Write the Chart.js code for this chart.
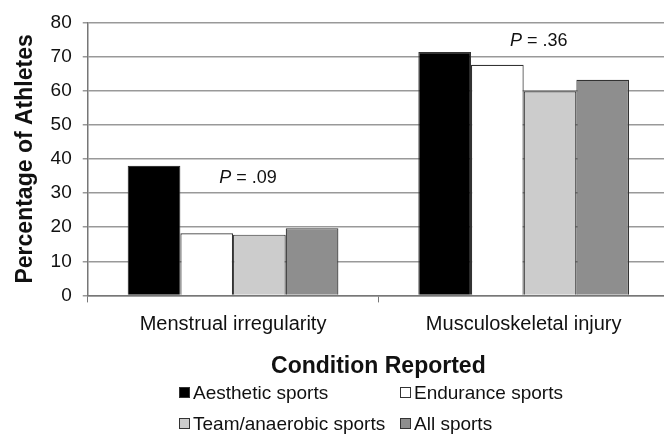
<!DOCTYPE html>
<html>
<head>
<meta charset="utf-8">
<script src="https://cdn.jsdelivr.net/npm/chart.js@4.4.0/dist/chart.umd.min.js"></script>
<style>
  html, body { margin: 0; padding: 0; background: #fff; overflow: hidden; }
  #wrap { position: relative; width: 672px; height: 384px; }
  #legend {
    position: absolute; left: 179px; top: 381px;
    display: grid; grid-template-columns: 221px 200px; row-gap: 8px;
    font-family: "Liberation Sans", Arial, sans-serif; font-size: 19px; color: #111;
  }
  #legend div { display: flex; align-items: center; height: 23px; white-space: nowrap; }
  #legend span.box { width: 11px; height: 11px; border: 1px solid #333; margin-right: 3px; box-sizing: border-box; }
</style>
</head>
<body>
<div id="wrap"><canvas id="chart"></canvas></div>
<div id="legend"></div>
<script>
// Data
const categories = ['Menstrual irregularity', 'Musculoskeletal injury'];
const seriesNames = ['Aesthetic sports', 'Endurance sports', 'Team/anaerobic sports', 'All sports'];
const seriesColors = ['#000000', '#ffffff', '#cccccc', '#8e8e8e'];
const aesthetic = [38, 71.3];
const endurance = [18.2, 67.6];
const teamAnaerobic = [17.8, 59.8];
const allSports = [19.7, 63.2];
const pValues = ['.09', '.36'];
const pLabelY = [34.5, 74.6];

const font = '"Liberation Sans", Arial, sans-serif';

// P value labels above each group
const pLabels = {
  id: 'pLabels',
  afterDatasetsDraw(chart) {
    const ctx = chart.ctx;
    const x = chart.scales.x, y = chart.scales.y;
    ctx.save();
    ctx.fillStyle = '#111';
    ctx.textBaseline = 'middle';
    pValues.forEach((p, i) => {
      const cx = x.getPixelForValue(i) + 15;
      const cy = y.getPixelForValue(pLabelY[i]);
      ctx.font = 'italic 18px ' + font;
      const w1 = ctx.measureText('P').width;
      ctx.font = '18px ' + font;
      const rest = ' = ' + p;
      const w2 = ctx.measureText(rest).width;
      let left = cx - (w1 + w2) / 2;
      ctx.font = 'italic 18px ' + font;
      ctx.fillText('P', left, cy);
      ctx.font = '18px ' + font;
      ctx.fillText(rest, left + w1, cy);
    });
    ctx.restore();
  }
};

const allData = [aesthetic, endurance, teamAnaerobic, allSports];

new Chart(document.getElementById('chart'), {
  type: 'bar',
  data: {
    labels: categories,
    datasets: allData.map((d, i) => ({
      label: seriesNames[i],
      data: d,
      backgroundColor: seriesColors[i],
      borderColor: '#333',
      borderWidth: 1.2,
      categoryPercentage: 0.725,
      barPercentage: 1.0
    }))
  },
  options: {
    responsive: true,
    maintainAspectRatio: false,
    animation: false,
    layout: { padding: { top: 9, right: 3, left: 12, bottom: 0 } },
    plugins: {
      legend: { display: false },
      tooltip: { enabled: false }
    },
    scales: {
      x: {
        offset: true,
        grid: { display: true, drawOnChartArea: false, color: '#777', tickLength: 7, offset: true },
        border: { color: '#777', width: 1.5 },
        ticks: { color: '#111', font: { family: font, size: 20 }, padding: 10, maxRotation: 0 },
        title: { display: true, text: 'Condition Reported', color: '#111', font: { family: font, size: 23, weight: 'bold' }, padding: { top: 6, bottom: 4 } }
      },
      y: {
        min: 0, max: 80,
        ticks: { stepSize: 10, color: '#111', font: { family: font, size: 19 }, padding: 11 },
        grid: { color: '#999', lineWidth: 1.5, tickLength: 5 },
        border: { color: '#777', width: 1.5 },
        title: { display: true, text: 'Percentage of Athletes', color: '#111', font: { family: font, size: 23, weight: 'bold' }, padding: { top: 0, bottom: 0 } }
      }
    }
  },
  plugins: [pLabels]
});

// HTML legend, two columns
const legend = document.getElementById('legend');
seriesNames.forEach((name, i) => {
  const item = document.createElement('div');
  const box = document.createElement('span');
  box.className = 'box';
  box.style.background = seriesColors[i];
  item.appendChild(box);
  item.appendChild(document.createTextNode(name));
  legend.appendChild(item);
});
</script>
</body>
</html>
